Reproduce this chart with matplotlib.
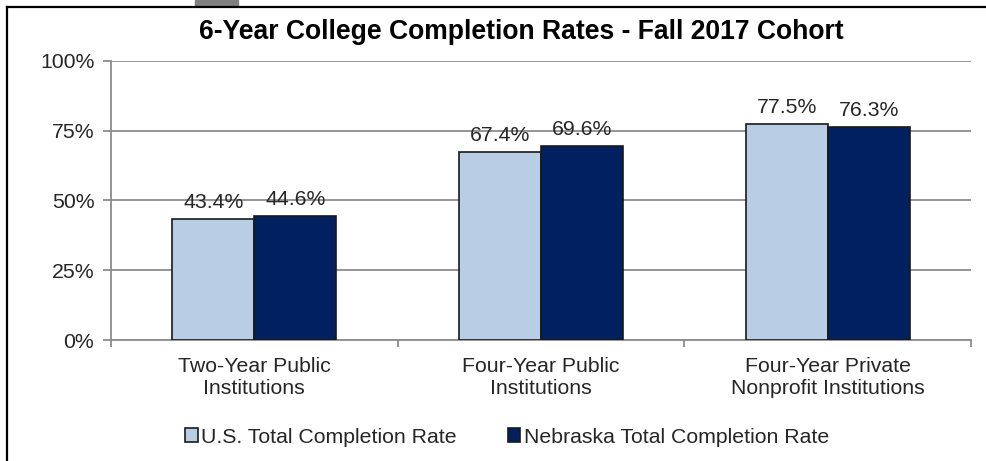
import numpy as np
import matplotlib
matplotlib.use("Agg")
import matplotlib.pyplot as plt
from matplotlib.lines import Line2D
from matplotlib.patches import Rectangle

# data
categories = ["Two-Year Public\nInstitutions",
              "Four-Year Public\nInstitutions",
              "Four-Year Private\nNonprofit Institutions"]
us_rate = [43.4, 67.4, 77.5]
ne_rate = [44.6, 69.6, 76.3]
series_names = ["U.S. Total Completion Rate", "Nebraska Total Completion Rate"]
y_ticks = [0, 25, 50, 75, 100]

plt.rcParams['font.family'] = ['Liberation Sans', 'DejaVu Sans']
txt = '#262626'
light = '#B9CDE5'
dark = '#002060'
fs = 15.3

W, H = 987, 461
fig = plt.figure(figsize=(W / 100, H / 100), dpi=100)
ax = fig.add_axes([111 / W, 1 - 340 / H, 860 / W, 279 / H])

x = np.arange(len(categories))
bw = 0.286
b1 = ax.bar(x - bw / 2, us_rate, bw, color=light, edgecolor='#1a1a1a', linewidth=1.2,
            label=series_names[0], zorder=3)
b2 = ax.bar(x + bw / 2, ne_rate, bw, color=dark, edgecolor='#1a1a1a', linewidth=1.2,
            label=series_names[1], zorder=3)

for bars in (b1, b2):
    for r in bars:
        ax.annotate(f"{r.get_height():.1f}%", (r.get_x() + r.get_width() / 2, r.get_height()),
                    xytext=(0, 5), textcoords='offset points', ha='center', va='bottom',
                    fontsize=fs, color=txt)

### axes look
ax.set_xlim(-0.5, len(categories) - 0.5)
ax.set_ylim(0, 100)
ax.set_yticks(y_ticks)
ax.set_yticklabels([f"{v}%" for v in y_ticks])
ax.yaxis.grid(True, color='#8c8c8c', linewidth=1.3, zorder=0)
ax.set_xticks(x)
ax.set_xticklabels(categories, linespacing=1.22)
ax.set_xticks(np.arange(len(categories) + 1) - 0.5, minor=True)
ax.tick_params(axis='x', which='major', length=0, pad=12, labelsize=fs, labelcolor=txt)
ax.tick_params(axis='x', which='minor', length=5, color='#8c8c8c', width=1.3)
ax.tick_params(axis='y', length=6, color='#8c8c8c', width=1.3, pad=6,
               labelsize=fs, labelcolor=txt)
for s in ('top', 'right'):
    ax.spines[s].set_visible(False)
for s in ('left', 'bottom'):
    ax.spines[s].set_color('#8c8c8c')
    ax.spines[s].set_linewidth(1.3)

fig.text(521 / W, 1 - 32 / H, "6-Year College Completion Rates - Fall 2017 Cohort",
         ha='center', va='center', fontsize=19.1, fontweight='bold', color='black')

leg = fig.legend(handles=[b1, b2], loc='center', bbox_to_anchor=(507 / W, 1 - 437 / H),
                 ncol=2, frameon=False, fontsize=fs, handlelength=0.6, handleheight=0.6,
                 handletextpad=0.15, columnspacing=2.4)
for t in leg.get_texts():
    t.set_color(txt)

# frame and the grey tab of the screenshot
fig.add_artist(Line2D([7 / W, 7 / W], [0, 1 - 7 / H], color='black', linewidth=1.6,
                      transform=fig.transFigure))
fig.add_artist(Line2D([7 / W, 1], [1 - 7 / H, 1 - 7 / H], color='black', linewidth=1.6,
                      transform=fig.transFigure))
fig.add_artist(Rectangle((195 / W, 1 - 6 / H), 43 / W, 6 / H, color='#808080',
                         transform=fig.transFigure))

fig.savefig("out.png", dpi=100)
